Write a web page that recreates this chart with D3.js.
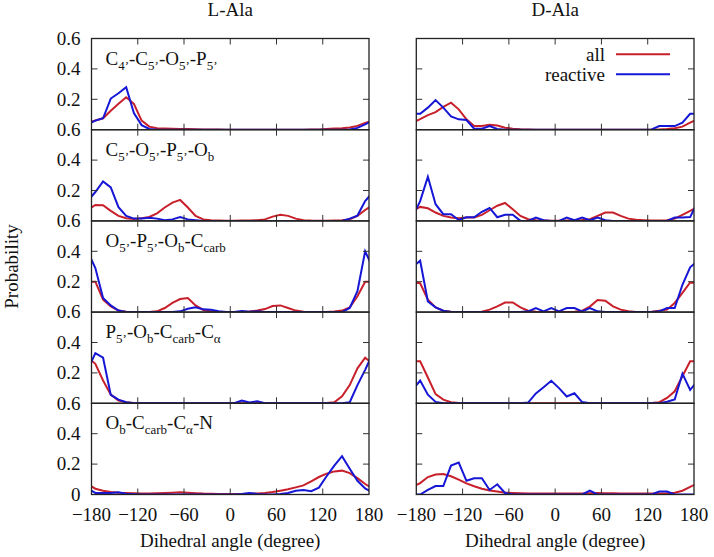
<!DOCTYPE html>
<html>
<head>
<meta charset="utf-8">
<script src="https://cdn.jsdelivr.net/npm/d3@7"></script>
</head>
<body style="margin:0">
<svg id="chart" width="714" height="557"></svg>
<script>
// ---------- data (bin centres in degrees) ----------
const binCenters = [-175,-165,-155,-145,-135,-125,-115,-105,-95,-85,-75,-65,-55,-45,-35,-25,-15,-5,
                    5,15,25,35,45,55,65,75,85,95,105,115,125,135,145,155,165,175];

const columnTitles = ["L-Ala", "D-Ala"];
const seriesNames = ["all", "reactive"];
const xTickValues = [-180, -120, -60, 0, 60, 120, 180];
const yTickValues = [0, 0.2, 0.4, 0.6];
const xAxisTitle = "Dihedral angle (degree)";
const yAxisTitle = "Probability";

// label pieces: [normal text, subscript]
const dihedralLabels = [
  [["C","4’"],["-C","5’"],["-O","5’"],["-P","5’"]],
  [["C","5’"],["-O","5’"],["-P","5’"],["-O","b"]],
  [["O","5’"],["-P","5’"],["-O","b"],["-C","carb"]],
  [["P","5’"],["-O","b"],["-C","carb"],["-C","α"]],
  [["O","b"],["-C","carb"],["-C","α"],["-N",""]]
];

// L-Ala
const L1_all   = [0.06,0.075,0.125,0.17,0.213,0.17,0.06,0.02,0.01,0.008,0.006,0.005,0.004,0.003,0.002,0.001,0.001,0,0,0,0,0,0,0,0,0,0,0,0.001,0.002,0.005,0.008,0.01,0.015,0.025,0.045];
const L1_react = [0.06,0.075,0.205,0.24,0.28,0.11,0.03,0.005,0,0,0,0,0,0,0,0,0,0,0,0,0,0,0,0,0,0,0,0,0,0,0,0,0,0.002,0.012,0.035];
const L2_all   = [0.105,0.103,0.066,0.033,0.018,0.013,0.018,0.026,0.05,0.088,0.12,0.138,0.088,0.033,0.01,0.004,0.002,0.001,0.001,0.002,0.003,0.005,0.01,0.028,0.04,0.033,0.015,0.005,0.002,0.001,0.001,0.002,0.004,0.01,0.033,0.072];
const L2_react = [0.19,0.26,0.22,0.09,0.033,0.015,0.015,0.02,0.015,0.005,0.01,0.025,0.01,0.005,0,0,0,0,0,0,0,0,0,0,0,0,0,0,0,0,0,0,0,0.015,0.035,0.13];
const L3_all   = [0.2,0.082,0.038,0.01,0.003,0.001,0,0.001,0.005,0.027,0.06,0.086,0.093,0.044,0.014,0.004,0.001,0,0,0.001,0.004,0.01,0.02,0.04,0.044,0.027,0.01,0.003,0.001,0,0.001,0.004,0.01,0.031,0.104,0.2];
const L3_react = [0.29,0.093,0.044,0.01,0,0,0,0,0,0,0,0.005,0.022,0.031,0.018,0.016,0.005,0,0,0.008,0.003,0.006,0,0,0,0,0,0,0,0,0,0,0,0.027,0.137,0.4];
const L4_all   = [0.26,0.15,0.057,0.018,0.007,0.002,0,0,0,0,0,0,0,0,0,0,0,0,0,0,0,0,0,0,0,0,0,0,0,0,0.002,0.007,0.046,0.12,0.23,0.3];
const L4_react = [0.33,0.3,0.055,0.024,0.007,0,0,0,0,0,0,0,0,0,0,0,0,0,0,0.018,0.005,0.013,0,0,0,0,0,0,0,0,0,0,0,0.007,0.12,0.22];
const L5_all   = [0.038,0.025,0.016,0.012,0.01,0.008,0.007,0.007,0.008,0.01,0.012,0.014,0.012,0.009,0.006,0.005,0.004,0.004,0.004,0.004,0.005,0.007,0.01,0.016,0.025,0.034,0.047,0.06,0.087,0.115,0.137,0.152,0.157,0.141,0.108,0.069];
const L5_react = [0.01,0.01,0.01,0.014,0.005,0.002,0,0,0,0,0,0,0,0,0,0,0,0,0,0.003,0.01,0.004,0,0,0.003,0.01,0.025,0.03,0.022,0.045,0.12,0.19,0.252,0.17,0.09,0.04];

// D-Ala
const D1_all   = [0.07,0.096,0.116,0.15,0.178,0.134,0.068,0.024,0.024,0.033,0.028,0.013,0.007,0.003,0.001,0,0,0,0,0,0,0,0,0,0,0,0,0,0,0,0,0.002,0.005,0.01,0.02,0.046];
const D1_react = [0.105,0.145,0.195,0.145,0.088,0.068,0.064,0.007,0.007,0.024,0.005,0,0,0,0,0,0,0,0,0,0,0,0,0,0,0,0,0,0,0,0.002,0.024,0.024,0.024,0.046,0.105];
const D2_all   = [0.092,0.083,0.055,0.033,0.022,0.018,0.022,0.022,0.04,0.07,0.1,0.118,0.077,0.033,0.011,0.004,0.002,0.001,0.001,0.002,0.004,0.006,0.011,0.033,0.055,0.055,0.033,0.015,0.007,0.004,0.002,0.002,0.005,0.015,0.04,0.066];
const D2_react = [0.13,0.29,0.11,0.044,0.044,0.006,0.024,0.024,0.06,0.085,0.024,0.04,0.04,0,0,0.022,0.004,0,0,0.022,0.004,0.022,0.004,0.022,0.004,0,0,0,0,0,0,0,0,0.022,0.022,0.025];
const D3_all   = [0.19,0.082,0.031,0.009,0.002,0,0,0,0.003,0.016,0.038,0.063,0.063,0.031,0.009,0.002,0,0,0,0,0.002,0.009,0.036,0.08,0.075,0.038,0.016,0.005,0.001,0,0.002,0.009,0.016,0.06,0.126,0.195];
const D3_react = [0.338,0.07,0.031,0.009,0,0,0,0,0,0,0,0,0,0,0.005,0.027,0.005,0.027,0.005,0.027,0.027,0.005,0.027,0.005,0,0,0,0,0,0,0,0.005,0.027,0.027,0.18,0.295];
const D4_all   = [0.276,0.17,0.06,0.024,0.007,0.002,0,0,0,0,0,0,0,0,0,0,0,0,0,0,0,0,0,0,0,0,0,0,0,0,0.002,0.007,0.035,0.079,0.178,0.276];
const D4_react = [0.15,0.057,0.009,0,0,0,0,0,0,0,0,0,0,0,0.005,0.065,0.105,0.148,0.1,0.045,0.066,0.008,0,0,0,0,0,0,0,0,0,0,0.01,0.025,0.195,0.088];
const D5_all   = [0.075,0.115,0.132,0.135,0.12,0.098,0.073,0.054,0.038,0.027,0.019,0.012,0.01,0.008,0.007,0.006,0.006,0.006,0.006,0.006,0.006,0.006,0.008,0.01,0.009,0.008,0.007,0.007,0.007,0.007,0.007,0.007,0.007,0.012,0.025,0.05];
const D5_react = [0,0.03,0.056,0.056,0.19,0.21,0.09,0.107,0.107,0.03,0.067,0.01,0,0,0,0,0,0,0,0,0,0,0.025,0,0,0,0,0,0,0,0,0.02,0.02,0,0,0];

const panelsL = [[L1_all,L1_react],[L2_all,L2_react],[L3_all,L3_react],[L4_all,L4_react],[L5_all,L5_react]];
const panelsD = [[D1_all,D1_react],[D2_all,D2_react],[D3_all,D3_react],[D4_all,D4_react],[D5_all,D5_react]];
const columns = [panelsL, panelsD];

// ---------- layout ----------
const colors = ["#c8202a", "#1616d6"];
const colX = [[91.5, 369], [416.3, 694]];
const top0 = 38.5, panelH = 91.2, nRows = 5;
const FSIZE = 19;
const FAMILY = "Times New Roman";
const TICK = 6;

const svg = d3.select("#chart");
const defs = svg.append("defs");

function addText(parent) {
  return parent.append("text")
    .style("font-family", `"${FAMILY}"`)
    .attr("font-size", FSIZE)
    .attr("fill", "#111");
}
function tick(parent, xa, ya, xb, yb) {
  parent.append("line").attr("x1", xa).attr("y1", ya).attr("x2", xb).attr("y2", yb)
    .attr("stroke", "#333").attr("stroke-width", 1);
}

// periodic wrap so the line reaches the frame edges
function wrapPoints(arr) {
  const pts = binCenters.map((a, i) => [a, arr[i]]);
  return [[binCenters[0] - 10, arr[arr.length - 1]], ...pts, [binCenters[binCenters.length - 1] + 10, arr[0]]];
}

columns.forEach((panels, c) => {
  const [x0, x1] = colX[c];
  const x = d3.scaleLinear().domain([-180, 180]).range([x0, x1]);

  addText(svg).attr("x", (x0 + x1) / 2).attr("y", 16)
     .attr("text-anchor", "middle").text(columnTitles[c]);

  panels.forEach((series, r) => {
    const yTop = top0 + r * panelH, yBot = yTop + panelH;
    const y = d3.scaleLinear().domain([0, 0.6]).range([yBot, yTop]);
    const g = svg.append("g");
    const clipId = `clip-${c}-${r}`;
    defs.append("clipPath").attr("id", clipId)
        .append("rect").attr("x", x0).attr("y", yTop).attr("width", x1 - x0).attr("height", panelH);

    const line = d3.line().x(d => x(d[0])).y(d => y(d[1]));
    series.forEach((arr, s) => {
      g.append("path").datum(wrapPoints(arr))
        .attr("clip-path", `url(#${clipId})`)
        .attr("fill", "none").attr("stroke", colors[s]).attr("stroke-width", 2)
        .attr("stroke-linejoin", "miter").attr("d", line);
    });

    const last = r === nRows - 1;
    // inward tick marks, mirrored on all four sides
    yTickValues.filter(v => v > 0 && v < 0.6).forEach(v => {
      tick(g, x0, y(v), x0 + TICK, y(v));
      tick(g, x1, y(v), x1 - TICK, y(v));
    });
    xTickValues.filter(v => v > -180 && v < 180).forEach(v => {
      tick(g, x(v), yBot, x(v), yBot - TICK);
      tick(g, x(v), yTop, x(v), yTop + TICK);
    });

    // y tick labels (left column)
    if (c === 0) {
      (last ? yTickValues : yTickValues.slice(1)).forEach(v => {
        addText(g).attr("x", x0 - 11).attr("y", y(v)).attr("dy", "0.33em")
          .attr("text-anchor", "end").text(v === 0 ? "0" : d3.format(".1f")(v));
      });
    }
    // x tick labels (bottom row)
    if (last) {
      xTickValues.forEach(v => {
        addText(g).attr("x", x(v)).attr("y", yBot + 26)
          .attr("text-anchor", "middle").text(d3.format("d")(v));
      });
    }

    g.append("rect").attr("x", x0).attr("y", yTop).attr("width", x1 - x0).attr("height", panelH)
      .attr("fill", "none").attr("stroke", "#222").attr("stroke-width", 1.3);

    if (c === 0) {
      const t = addText(g).attr("x", x0 + 14).attr("y", yTop + 26);
      let shifted = false;
      dihedralLabels[r].forEach(([main, sub]) => {
        const m = t.append("tspan").text(main);
        if (shifted) { m.attr("dy", -5); shifted = false; }
        if (sub) {
          t.append("tspan").attr("font-size", 13).attr("dy", 5).text(sub);
          shifted = true;
        }
      });
    }

    if (c === 1 && r === 0) {
      const lx1 = 616, lx2 = 670;
      [[54.3, 61], [74.3, 81]].forEach(([ly, ty], s) => {
        addText(g).attr("x", 605).attr("y", ty).attr("text-anchor", "end").text(seriesNames[s]);
        g.append("line").attr("x1", lx1).attr("x2", lx2).attr("y1", ly).attr("y2", ly)
          .attr("stroke", colors[s]).attr("stroke-width", 2);
      });
    }
  });

  addText(svg).attr("x", (x0 + x1) / 2).attr("y", 547)
     .attr("text-anchor", "middle").text(xAxisTitle);
});

addText(svg).attr("transform", `translate(18,${(top0 + top0 + nRows * panelH) / 2}) rotate(-90)`)
   .attr("text-anchor", "middle").text(yAxisTitle);
</script>
</body>
</html>
